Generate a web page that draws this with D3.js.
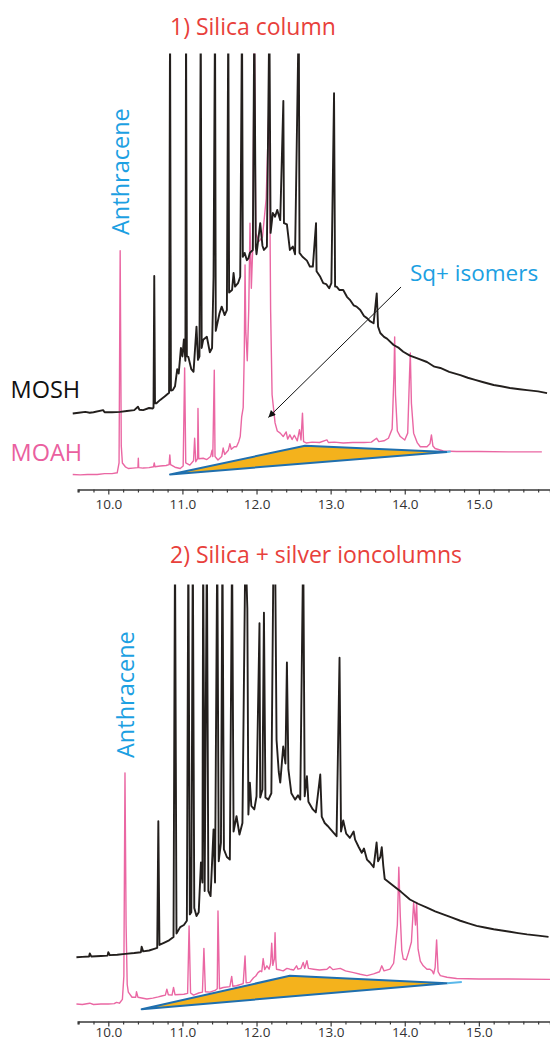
<!DOCTYPE html>
<html>
<head>
<meta charset="utf-8">
<script src="https://cdn.jsdelivr.net/npm/d3@7"></script>
<style>
  body { margin: 0; background: #fff; }
  svg { display: block; font-family: "Open Sans", sans-serif; }
</style>
</head>
<body>
<svg id="chart" width="550" height="1041"></svg>
<script>
// retention time (min) vs relative signal

const moshSilica = [
  [9.52, 15.6], [9.60, 15.8], [9.69, 16.0], [9.75, 15.8], [9.80, 15.9], [9.93, 16.4], [9.95, 15.9],
  [10.05, 15.9], [10.16, 16.0], [10.25, 16.2], [10.35, 16.4], [10.40, 17.2], [10.42, 16.5],
  [10.47, 16.4], [10.55, 16.9], [10.60, 16.8], [10.61, 17.0], [10.62, 47.9], [10.63, 18.0],
  [10.65, 18.0], [10.70, 18.8], [10.76, 19.6], [10.82, 20.5], [10.833, 110], [10.845, 21],
  [10.87, 21.1], [10.90, 22], [10.93, 26], [10.95, 25], [10.98, 31], [11.0, 29], [11.02, 33],
  [11.04, 28], [11.049, 110], [11.06, 29], [11.08, 28.9], [11.12, 26], [11.15, 25.4],
  [11.19, 36], [11.21, 28.2], [11.23, 29], [11.247, 110], [11.26, 31], [11.28, 32.9],
  [11.33, 33.6], [11.37, 30], [11.40, 31], [11.42, 47.7], [11.44, 110], [11.45, 35],
  [11.50, 39.1], [11.53, 40.7], [11.57, 38.7], [11.60, 39.9], [11.619, 110], [11.63, 44],
  [11.67, 44.6], [11.69, 48.6], [11.71, 45.4], [11.75, 46.2], [11.78, 47.7], [11.804, 110],
  [11.815, 52.4], [11.84, 53.3], [11.87, 51.6], [11.89, 52], [11.91, 53.3], [11.95, 54],
  [11.97, 110], [11.99, 54.8], [12.0, 53], [12.05, 60.3], [12.08, 55], [12.10, 54],
  [12.14, 54.8], [12.173, 110], [12.19, 58], [12.22, 62.7], [12.25, 61.8], [12.28, 63.4],
  [12.32, 61], [12.362, 89], [12.37, 60.3], [12.41, 60], [12.45, 54], [12.49, 54.8],
  [12.52, 53], [12.57, 110], [12.58, 53.3], [12.62, 52.4], [12.68, 51.5], [12.72, 50.1],
  [12.76, 50.1], [12.803, 60.3], [12.81, 49], [12.86, 47.7], [12.90, 46.2], [12.94, 46],
  [12.98, 45], [13.01, 46.2], [13.046, 90.8], [13.06, 45.4], [13.08, 45.4], [13.12, 44.6],
  [13.17, 44.6], [13.22, 43], [13.26, 42.3], [13.31, 41], [13.35, 40.7], [13.40, 39.9],
  [13.45, 38.5], [13.49, 38], [13.53, 37.3], [13.58, 36.8], [13.622, 43.8], [13.64, 36],
  [13.67, 34.5], [13.72, 33.6], [13.76, 33.2], [13.85, 31.7], [13.92, 31], [13.98, 30.1],
  [14.07, 29.2], [14.18, 28.5], [14.30, 27.7], [14.40, 26.6], [14.48, 26.3], [14.60, 25.4],
  [14.75, 24.6], [14.85, 24], [14.95, 23.5], [15.05, 23], [15.20, 22.3], [15.30, 22],
  [15.42, 21.6], [15.55, 21.3], [15.65, 21.1], [15.80, 20.8], [15.92, 20.4]
];

const moahSilica = [
  [9.52, 1.3], [9.62, 1.2], [9.72, 1.3], [9.85, 1.3], [9.95, 1.5], [10.05, 1.5], [10.12, 1.7],
  [10.145, 4], [10.16, 53.8], [10.175, 8], [10.19, 4], [10.23, 3.1], [10.27, 2.7], [10.33, 2.8],
  [10.40, 2.9], [10.405, 5.1], [10.41, 2.9], [10.47, 2.8], [10.55, 2.9], [10.61, 3.1], [10.62, 4],
  [10.63, 3.1], [10.70, 3.3], [10.78, 3.4], [10.82, 3.6], [10.83, 5.9], [10.84, 3.6], [10.90, 3.0],
  [10.97, 2.7], [11.01, 3.3], [11.03, 26.3], [11.045, 4], [11.10, 3.5], [11.15, 4.5],
  [11.165, 9.8], [11.18, 4.3], [11.205, 5], [11.21, 16.8], [11.22, 5], [11.28, 5.1], [11.33, 4.8],
  [11.38, 5.5], [11.40, 7], [11.41, 5.5], [11.43, 25.8], [11.44, 5.5], [11.48, 4.7], [11.53, 5.5],
  [11.55, 7.5], [11.57, 6], [11.62, 7], [11.64, 8.5], [11.66, 7.2], [11.70, 7.8], [11.73, 7.8],
  [11.76, 9], [11.78, 10.2], [11.80, 14.9], [11.82, 17], [11.835, 30], [11.845, 50.5],
  [11.855, 35], [11.875, 28], [11.895, 40], [11.912, 60.3], [11.93, 45], [11.95, 55],
  [11.97, 110], [11.99, 58], [12.03, 56], [12.08, 57], [12.13, 66], [12.17, 89], [12.19, 40],
  [12.21, 20], [12.25, 13.4], [12.28, 11.5], [12.32, 11], [12.36, 10.2], [12.40, 11.3],
  [12.42, 9.6], [12.45, 10.6], [12.48, 9.5], [12.51, 10.5], [12.55, 9.2], [12.58, 11.8],
  [12.60, 9.4], [12.62, 15.7], [12.635, 9], [12.67, 8.7], [12.75, 8.9], [12.85, 8.8],
  [12.95, 9.4], [12.97, 8.8], [13.05, 8.9], [13.17, 8.7], [13.30, 8.8], [13.45, 8.8],
  [13.55, 8.9], [13.62, 9.8], [13.65, 9], [13.72, 9.2], [13.78, 9.8], [13.83, 12], [13.855, 25],
  [13.864, 33.6], [13.875, 20], [13.90, 11.5], [13.94, 10.2], [14.00, 9.4], [14.04, 11],
  [14.065, 25], [14.075, 29.8], [14.09, 18], [14.12, 11], [14.17, 8.7], [14.21, 7.8],
  [14.30, 7.8], [14.34, 8.5], [14.36, 10.6], [14.38, 8], [14.41, 7.4], [14.52, 6.8],
  [14.70, 6.7], [15.00, 6.7], [15.40, 6.6], [15.85, 6.6]
];

const moshSilver = [
  [9.57, 12.4], [9.65, 12.5], [9.74, 12.6], [9.75, 13.3], [9.77, 12.6], [9.90, 12.7], [9.99, 12.8],
  [10.0, 13.6], [10.02, 12.9], [10.12, 13.0], [10.23, 13.2], [10.35, 13.4], [10.44, 13.6],
  [10.45, 14.9], [10.47, 13.8], [10.55, 14.0], [10.62, 14.4], [10.66, 14.6], [10.675, 44.4],
  [10.69, 15.3], [10.75, 15.8], [10.82, 16.4], [10.88, 17.2], [10.90, 110], [10.92, 18],
  [10.97, 19.5], [11.02, 20], [11.06, 21], [11.08, 110], [11.10, 22.5], [11.12, 23],
  [11.14, 110], [11.16, 24], [11.19, 22.1], [11.22, 23], [11.25, 34.7], [11.27, 30],
  [11.28, 110], [11.30, 28], [11.33, 110], [11.35, 28], [11.38, 26.8], [11.42, 42.5],
  [11.44, 30], [11.47, 110], [11.49, 35], [11.52, 39.4], [11.54, 110], [11.56, 37.8],
  [11.60, 36], [11.64, 35.4], [11.67, 110], [11.69, 42], [11.73, 45.6], [11.77, 41.3],
  [11.81, 44], [11.85, 110], [11.876, 94.5], [11.89, 46], [11.91, 53.5], [11.93, 48],
  [11.97, 47.2], [12.0, 50.3], [12.04, 91], [12.05, 50], [12.08, 51.9], [12.10, 93.5],
  [12.12, 50], [12.16, 49.5], [12.20, 51], [12.23, 110], [12.25, 110], [12.27, 63.6],
  [12.30, 56], [12.32, 53.5], [12.36, 62], [12.39, 58], [12.41, 81.8], [12.43, 56.6],
  [12.47, 51], [12.52, 49.5], [12.56, 50.5], [12.59, 49.5], [12.63, 110], [12.65, 50.3],
  [12.68, 55], [12.70, 49], [12.76, 47.2], [12.80, 46.5], [12.86, 55.4], [12.88, 45.5],
  [12.92, 44], [12.96, 43.3], [13.0, 42.5], [13.05, 41.5], [13.08, 40.9], [13.12, 82.9],
  [13.14, 42], [13.17, 44.6], [13.21, 41.5], [13.26, 40.5], [13.31, 42], [13.33, 40.1],
  [13.38, 38.3], [13.42, 37], [13.45, 38], [13.49, 35.4], [13.53, 34.7], [13.58, 33.6],
  [13.62, 39.4], [13.64, 35], [13.67, 36], [13.69, 38.3], [13.71, 34], [13.73, 30.8],
  [13.79, 30], [13.85, 29.2], [13.95, 27.8], [14.07, 26], [14.18, 25], [14.30, 24.1],
  [14.41, 23.2], [14.52, 22.5], [14.63, 21.8], [14.75, 21], [14.86, 20.4], [14.97, 19.8],
  [15.08, 19.4], [15.20, 19], [15.31, 18.7], [15.42, 18.4], [15.53, 18.1], [15.65, 17.8],
  [15.80, 17.5], [15.94, 17.2]
];

const moahSilver = [
  [9.57, 1.4], [9.65, 1.3], [9.75, 1.6], [9.80, 1.3], [9.90, 1.4], [10.0, 1.4], [10.08, 1.5],
  [10.11, 1.8], [10.15, 1.6], [10.19, 2.5], [10.21, 8], [10.225, 55.8], [10.24, 20],
  [10.255, 6], [10.27, 4.2], [10.32, 3.0], [10.37, 3.0], [10.38, 4.3], [10.40, 3.0],
  [10.52, 2.6], [10.60, 2.8], [10.675, 3.1], [10.72, 3.3], [10.77, 3.5], [10.79, 4.9],
  [10.81, 3.6], [10.86, 3.5], [10.88, 5.3], [10.90, 3.6], [11.02, 3.7], [11.07, 3.9],
  [11.09, 19.8], [11.11, 4], [11.15, 3.5], [11.22, 4], [11.27, 4.2], [11.29, 14.5],
  [11.31, 4.3], [11.37, 4.2], [11.44, 4.6], [11.47, 5], [11.48, 23.3], [11.50, 5], [11.55, 5.3],
  [11.64, 5.5], [11.665, 7.9], [11.68, 5.6], [11.73, 5.7], [11.82, 6.2], [11.845, 12.7],
  [11.86, 6.4], [11.91, 6.5], [11.96, 7.6], [11.99, 8], [12.02, 8.8], [12.05, 9.2], [12.07, 9],
  [12.09, 12.1], [12.11, 9.5], [12.14, 10.4], [12.17, 9.6], [12.19, 11], [12.205, 15.7],
  [12.22, 10.5], [12.24, 12], [12.25, 18.2], [12.26, 12], [12.27, 9.6], [12.32, 9.4],
  [12.36, 9.2], [12.41, 9.8], [12.45, 9.6], [12.50, 9.4], [12.54, 10.4], [12.56, 9.6],
  [12.60, 9.8], [12.63, 11.2], [12.65, 9.8], [12.68, 11.6], [12.70, 9.8], [12.77, 9.6],
  [12.85, 9.4], [12.95, 9.6], [12.99, 10.2], [13.03, 9.5], [13.13, 9.8], [13.20, 9.2],
  [13.31, 8.8], [13.40, 8.4], [13.49, 8.1], [13.58, 8.5], [13.66, 9], [13.69, 10.4],
  [13.72, 9.2], [13.80, 9.6], [13.85, 11], [13.87, 14.3], [13.90, 20], [13.92, 33.6],
  [13.94, 22], [13.96, 14], [13.98, 12], [14.02, 11.8], [14.05, 13.5], [14.09, 16],
  [14.12, 25.3], [14.145, 20], [14.16, 25.3], [14.18, 14.3], [14.21, 11.5], [14.25, 10.4],
  [14.30, 9.6], [14.34, 9.6], [14.37, 9.2], [14.39, 8.5], [14.41, 10], [14.43, 16.5],
  [14.45, 9], [14.48, 8.1], [14.57, 7.7], [14.70, 7.4], [15.0, 7.3], [15.4, 7.3], [15.96, 7.2]
];

// unresolved hump (orange wedge) and its tail
const wedgeSilica = [[10.833, 1.3], [12.655, 8.05], [14.57, 6.6]];
const wedgeSilver = [[10.45, 0.2], [12.45, 8.05], [14.57, 6.3]];
const tailSilica = [[14.57, 6.6], [14.62, 6.7]];
const tailSilver = [[14.57, 6.3], [14.77, 6.6]];

const anthraceneTime = [10.16, 10.225];
const sqArrow = [[13.95, 45.3], [12.16, 14.7]];

const tickValues = d3.range(96, 160, 2).map((d) => d / 10);
const titles = ["1) Silica column", "2) Silica + silver ioncolumns"];

var svg = d3.select("#chart");

var x = d3.scaleLinear().domain([9.587, 15.96]).range([77.7, 550]);

var panels = [
  { title: titles[0], titleY: 35, yBase: 480, yTop: 54, axisY: 489.5, labelDy: 19.5,
    mosh: moshSilica, moah: moahSilica, wedge: wedgeSilica, tail: tailSilica,
    anth: anthraceneTime[0], anthY: 235, legend: true },
  { title: titles[1], titleY: 563, yBase: 1010, yTop: 585, axisY: 1021.5, labelDy: 15.5,
    mosh: moshSilver, moah: moahSilver, wedge: wedgeSilver, tail: tailSilver,
    anth: anthraceneTime[1], anthY: 758, legend: false },
];

svg.append("defs")
  .append("marker")
  .attr("id", "arrowhead")
  .attr("markerUnits", "userSpaceOnUse")
  .attr("viewBox", "0 0 10 10")
  .attr("refX", 10)
  .attr("refY", 5)
  .attr("markerWidth", 9)
  .attr("markerHeight", 7)
  .attr("orient", "auto")
  .append("path")
  .attr("d", "M0,0 L10,5 L0,10 z")
  .attr("fill", "#111");

panels.forEach(function (p, i) {
  var y = d3.scaleLinear().domain([0, 100]).range([p.yBase, p.yTop]);

  var clipId = "clip" + i;
  svg.append("clipPath")
    .attr("id", clipId)
    .append("rect")
    .attr("x", 0)
    .attr("y", p.yTop - 0.5)
    .attr("width", 550)
    .attr("height", p.axisY - p.yTop);

  var line = d3.line()
    .x((d) => x(d[0]))
    .y((d) => y(d[1]));

  var g = svg.append("g").attr("clip-path", "url(#" + clipId + ")");

  // MOAH trace (pink)
  g.append("path")
    .datum(p.moah)
    .attr("d", line)
    .attr("fill", "none")
    .attr("stroke", "#ea67a3")
    .attr("stroke-width", 1.4)
    .attr("stroke-linejoin", "round");

  // orange wedge
  g.append("path")
    .datum(p.wedge)
    .attr("d", (d) => line(d) + "Z")
    .attr("fill", "#f4b21c")
    .attr("stroke", "#1f6fae")
    .attr("stroke-width", 2)
    .attr("stroke-linejoin", "round");

  g.append("path")
    .datum(p.tail)
    .attr("d", line)
    .attr("fill", "none")
    .attr("stroke", "#5ab8ea")
    .attr("stroke-width", 2);

  // MOSH trace (black)
  g.append("path")
    .datum(p.mosh)
    .attr("d", line)
    .attr("fill", "none")
    .attr("stroke", "#231f1d")
    .attr("stroke-width", 1.9)
    .attr("stroke-linejoin", "round");

  // x axis
  var axis = d3.axisBottom(x)
    .tickValues(tickValues)
    .tickSizeOuter(0)
    .tickSize(3)
    .tickFormat((d) => (Math.abs(d - Math.round(d)) < 1e-6 ? d.toFixed(1) : ""));

  var ax = svg.append("g")
    .attr("transform", "translate(0," + p.axisY + ")")
    .call(axis);

  ax.select(".domain").attr("stroke", "#3a3a3a").attr("stroke-width", 1.5);
  ax.selectAll(".tick line")
    .attr("stroke", "#3a3a3a")
    .attr("stroke-width", 1.2)
    .attr("y2", (d) => (Math.abs(d - Math.round(d)) < 1e-6 ? 5 : 3));
  ax.selectAll(".tick text")
    .attr("y", p.labelDy)
    .attr("dy", 0)
    .attr("fill", "#333")
    .style("font-family", "'Open Sans', sans-serif")
    .style("font-size", "13.5px");

  // title
  svg.append("text")
    .attr("x", 170)
    .attr("y", p.titleY)
    .attr("fill", "#e8403b")
    .style("font-size", "23px")
    .text(p.title);

  // anthracene label
  svg.append("text")
    .attr("transform", "translate(" + (x(p.anth) + 9) + "," + p.anthY + ") rotate(-90)")
    .attr("fill", "#1ca0e2")
    .style("font-size", "23.5px")
    .text("Anthracene");

  if (p.legend) {
    svg.append("text")
      .attr("x", 10.5)
      .attr("y", 398)
      .attr("fill", "#111")
      .style("font-size", "23.5px")
      .text("MOSH");

    svg.append("text")
      .attr("x", 10.5)
      .attr("y", 461)
      .attr("fill", "#ea5f9f")
      .style("font-size", "23.5px")
      .text("MOAH");

    svg.append("text")
      .attr("x", 410)
      .attr("y", 281)
      .attr("fill", "#1ca0e2")
      .style("font-size", "22.5px")
      .text("Sq+ isomers");

    svg.append("line")
      .attr("x1", x(sqArrow[0][0]))
      .attr("y1", y(sqArrow[0][1]))
      .attr("x2", x(sqArrow[1][0]))
      .attr("y2", y(sqArrow[1][1]))
      .attr("stroke", "#111")
      .attr("stroke-width", 1)
      .attr("marker-end", "url(#arrowhead)");
  }
});
</script>
</body>
</html>
